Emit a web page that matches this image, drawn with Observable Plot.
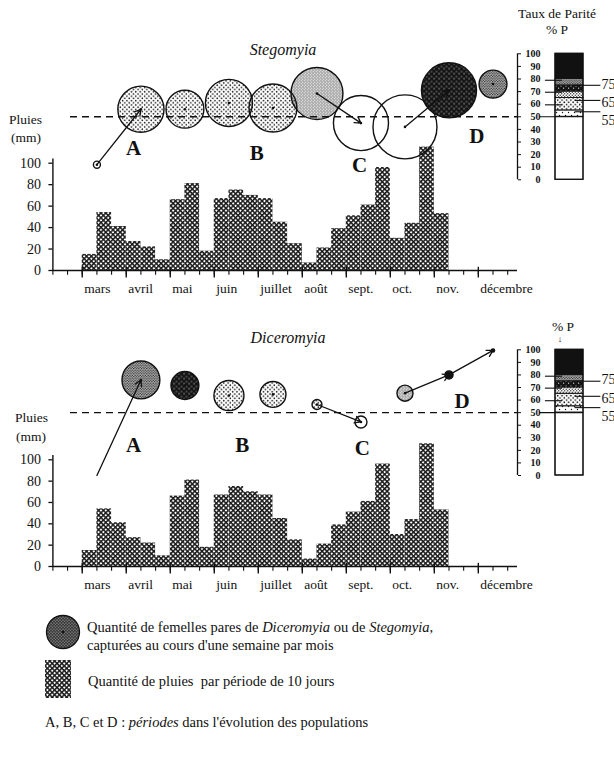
<!DOCTYPE html>
<html><head><meta charset="utf-8">
<script src="https://cdn.jsdelivr.net/npm/d3@7"></script>
<script src="https://cdn.jsdelivr.net/npm/@observablehq/plot@0.6"></script>
<style>
body{margin:0;background:#fff;overflow:hidden}
#page{position:relative;width:614px;height:758px;font-family:"Liberation Serif","DejaVu Serif",serif;color:#111}
.abs{position:absolute;white-space:nowrap;line-height:1}
.c{transform:translate(-50%,-50%)}
.layer{position:absolute;left:0}
</style></head><body>
<svg width="0" height="0" style="position:absolute">
<defs>
<pattern id="pRain" width="3.4" height="3.4" patternUnits="userSpaceOnUse" patternTransform="rotate(45)"><rect width="3.4" height="3.4" fill="#fff"/><rect width="3.4" height="1.5" fill="#1a1a1a"/><rect width="1.5" height="3.4" fill="#1a1a1a"/></pattern>
<pattern id="pSparse" width="6" height="6" patternUnits="userSpaceOnUse"><circle cx="1.5" cy="1.5" r="0.7" fill="#111"/><circle cx="4.5" cy="4.5" r="0.7" fill="#111"/></pattern>
<pattern id="pDots" width="4.4" height="4.4" patternUnits="userSpaceOnUse"><circle cx="1.1" cy="1.1" r="0.8" fill="#111"/><circle cx="3.3" cy="3.3" r="0.8" fill="#111"/></pattern>
<pattern id="pFine" width="3" height="3" patternUnits="userSpaceOnUse"><circle cx="0.75" cy="0.75" r="0.65" fill="#222"/><circle cx="2.25" cy="2.25" r="0.65" fill="#222"/></pattern>
<pattern id="pGray" width="2.6" height="2.6" patternUnits="userSpaceOnUse"><rect width="2.6" height="2.6" fill="#bbb"/><circle cx="0.65" cy="0.65" r="0.7" fill="#222"/><circle cx="1.95" cy="1.95" r="0.7" fill="#222"/></pattern>
<pattern id="pDark" width="5" height="5" patternUnits="userSpaceOnUse"><rect width="5" height="5" fill="#141414"/><circle cx="1" cy="1" r="0.55" fill="#fff"/><circle cx="3.6" cy="3.2" r="0.6" fill="#ddd"/></pattern>
<pattern id="pLegend" width="3" height="3" patternUnits="userSpaceOnUse"><rect width="3" height="3" fill="#3a3a3a"/><circle cx="1" cy="1" r="0.5" fill="#eee"/><circle cx="2.4" cy="2.3" r="0.45" fill="#ccc"/></pattern>
</defs></svg>
<div id="page">
  <div class="abs c" style="left:283px;top:50px;font-style:italic;font-size:16px">Stegomyia</div>
  <div class="abs c" style="left:288px;top:338px;font-style:italic;font-size:16px">Diceromyia</div>
  <div class="abs c" style="left:557px;top:14px;font-size:13.5px">Taux de Parité</div>
  <div class="abs c" style="left:557px;top:30px;font-size:13.5px">% P</div>
  <div class="abs c" style="left:563px;top:327px;font-size:13.5px">% P</div>
  <div class="abs c" style="left:560px;top:339px;font-size:9px;font-weight:bold">↓</div>
  <div class="abs" style="left:9px;top:113px;font-size:13.5px">Pluies</div>
  <div class="abs" style="left:11px;top:131px;font-size:13.5px">(mm)</div>
  <div class="abs" style="left:15px;top:411px;font-size:13.5px">Pluies</div>
  <div class="abs" style="left:16px;top:430px;font-size:13.5px">(mm)</div>

  <svg class="abs" style="left:44px;top:613px" width="38" height="38"><circle cx="19" cy="19" r="16.5" fill="url(#pLegend)" stroke="#111" stroke-width="1.3"/><circle cx="19" cy="19" r="1.3" fill="#111"/></svg>
  <div class="abs" style="left:87px;top:620px;font-size:14.5px">Quantité de femelles pares de <i>Diceromyia</i> ou de <i>Stegomyia</i>,</div>
  <div class="abs" style="left:87px;top:638px;font-size:14.5px">capturées au cours d'une semaine par mois</div>
  <svg class="abs" style="left:45px;top:660px" width="26" height="38"><rect width="26" height="38" fill="url(#pRain)"/></svg>
  <div class="abs" style="left:88px;top:674px;font-size:14.5px">Quantité de pluies&nbsp; par période de 10 jours</div>
  <div class="abs" style="left:45px;top:715px;font-size:14.5px">A, B, C et D : <i>périodes</i> dans l'évolution des populations</div>
</div>
<script>
// ---------------- DATA ----------------
const months = ["mars","avril","mai","juin","juillet","août","sept.","oct.","nov.","décembre"];
// rainfall per 10-day period, 1 March -> 10 November (mm)
const rainMm = [15,54,41,27,22,10,66,81,18,67,75,70,67,45,25,7,21,39,51,61,96,30,44,115,53];
const rainTicks = [0,20,40,60,80,100];
const parityTicks = [0,10,20,30,40,50,60,70,80,90,100];
// one capture week per month (mars .. décembre)
const stegoParity   = [12, 56, 56, 61, 57, 68.5, 45, 42, 71, 76];
const stegoQuantity = [1.2, 52, 35, 54, 56, 66, 74, 100, 74, 19];
const diceroParity   = [0, 76, 71.6, 63.6, 64.5, 56.5, 42.6, 65.5, 80, 99.5];
const diceroQuantity = [0, 35, 19, 22, 16.5, 2.4, 3.5, 6.3, 1.6, 0.25];
const stegoArrows  = [[0,1],[5,6],[7,8]];
const diceroArrows = [[0,1],[5,6],[7,8],[8,9]];
const periodLetters = ["A","B","C","D"];
const stegoLetterX = [5.5, 13.9, 20.9, 28.9], stegoLetterP = [24.8, 20.9, 11.3, 34.4];
const diceroLetterX = [5.5, 12.9, 21.1, 27.9], diceroLetterP = [23.9, 23.9, 21.5, 58.9];
// parity classes of the legend bar
const classBounds = [0, 50, 55, 65, 70, 75, 80, 100];
const classLabels = ["75","65","55"];
const classLabelLine = [75, 63, 54];
const classLabelPos = [76, 61.5, 47];
const legendLeftLines = [79, 69.5, 59.5];

// ---------------- BUILD ----------------
const FONT = "Liberation Serif";
const X_END = 31.67;            // axis runs 11 Feb -> ~20 Dec (10-day periods)
const classFills = ["none","url(#pSparse)","url(#pDots)","url(#pFine)","url(#pDark)","url(#pGray)","#111"];
const classOf = p => { for (let k = classBounds.length - 2; k >= 0; k--) if (p >= classBounds[k]) return k; return 0; };
const rainRows = rainMm.map((mm, k) => ({i: k + 2, mm}));
const monthRows = months.map((m, k) => ({start: 2 + 3 * k, label: m}));
const rScale = {type: "sqrt", domain: [0, 100], range: [0, 32]};
const rPx = q => 32 * Math.sqrt(q / 100);

function rainPlot(mt, mb, h) {
  return Plot.plot({
    width: 614, height: h, marginLeft: 52.4, marginRight: 97, marginTop: mt, marginBottom: mb,
    x: {domain: [0, X_END], axis: null},
    y: {domain: [0, 100], axis: null},
    style: {background: "transparent", overflow: "visible", fontFamily: FONT},
    marks: [
      Plot.rectY(rainRows, {x1: "i", x2: d => d.i + 1, y: "mm", fill: "url(#pRain)"}),
      Plot.ruleY([0], {x1: 0, x2: X_END, strokeWidth: 1.6, stroke: "#111"}),
      Plot.ruleX(d3.range(0, 32), {y1: 0, y2: -4.5, stroke: "#111", strokeWidth: 1.1}),
      Plot.ruleX(monthRows, {x: "start", y1: 3, y2: -7, stroke: "#111", strokeWidth: 1.4}),
      Plot.text(monthRows, {x: "start", y: 0, text: "label", dy: 18, dx: 2, textAnchor: "start", fontSize: 13.5, fontFamily: FONT, fill: "#111"}),
      Plot.ruleX([0], {y1: -1, y2: 104, stroke: "#111", strokeWidth: 1.4}),
      Plot.axisY({ticks: rainTicks, tickSize: 4, tickPadding: 8, fontSize: 14, label: null, stroke: "#111", fill: "#111", strokeWidth: 1.3})
    ]
  });
}

function overlayPlot(mt, mb, parity, quantity, arrows, letterX, letterP) {
  const rows = parity.map((p, k) => ({x: 3 + 3 * k, p, q: quantity[k], k: classOf(p)}));
  const arr = arrows.map(([a, b]) => {
    const ra = rPx(rows[a].q), rb = rPx(rows[b].q);
    return {x1: rows[a].x, y1: rows[a].p, x2: rows[b].x, y2: rows[b].p,
            s: ra > 0 && ra < 10 ? ra + 1 : 0, e: rb < 20 ? rb + 1 : 3};
  });
  const letters = periodLetters.map((t, k) => ({t, x: letterX[k], p: letterP[k]}));
  const marks = [];
  classFills.forEach((f, k) => {
    marks.push(Plot.dot(rows.filter(d => d.k === k && d.q > 0), {x: "x", y: "p", r: "q", fill: f, stroke: "#111", strokeWidth: 1.4}));
  });
  marks.push(
    Plot.ruleY([50], {x1: 1.2, x2: X_END, stroke: "#111", strokeWidth: 1.4, strokeDasharray: "7,5"}),
    Plot.dot(rows.filter(d => d.q > 1), {x: "x", y: "p", r: 1.3, fill: "#111"}),
    Plot.arrow(arr, {x1: "x1", y1: "y1", x2: "x2", y2: "y2", insetStart: "s", insetEnd: "e", bend: 0, headLength: 8, stroke: "#111", strokeWidth: 1.3}),
    Plot.text(letters, {x: "x", y: "p", text: "t", fontSize: 21, fontWeight: "bold", fontFamily: FONT, fill: "#111"}),
    Plot.ruleX([X_END], {y1: 0, y2: 100, stroke: "#111", strokeWidth: 1.3}),
    Plot.axisY({anchor: "right", ticks: parityTicks, tickSize: 3, tickPadding: 20, textAnchor: "end", fontSize: 10, fontWeight: "bold", label: null, stroke: "#111", fill: "#111"})
  );
  return Plot.plot({
    width: 614, height: 300, marginLeft: 52.4, marginRight: 97, marginTop: mt, marginBottom: mb,
    x: {domain: [0, X_END], axis: null},
    y: {domain: [0, 100], axis: null},
    r: rScale,
    style: {background: "transparent", overflow: "visible", fontFamily: FONT},
    marks
  });
}

function legendBarPlot(mt, mb) {
  const segs = classBounds.slice(0, -1).map((lo, k) => ({lo, hi: classBounds[k + 1], k}));
  const labels = classLabels.map((t, k) => ({t, line: classLabelLine[k], pos: classLabelPos[k]}));
  const marks = segs.map(s => Plot.rect([s], {x1: 0, x2: 1, y1: "lo", y2: "hi", fill: classFills[s.k] === "none" ? "#fff" : classFills[s.k], stroke: "#111", strokeWidth: 0.8}));
  marks.push(
    Plot.rect([0], {x1: 0, x2: 1, y1: 0, y2: 100, fill: "none", stroke: "#111", strokeWidth: 1.3}),
    Plot.ruleY(legendLeftLines, {x1: -0.36, x2: 0.25, stroke: "#111", strokeWidth: 1.1}),
    Plot.ruleY([50], {x1: -0.55, x2: 1, stroke: "#111", strokeWidth: 1.1}),
    Plot.ruleY(labels, {y: "line", x1: 0.7, x2: 1.62, stroke: "#111", strokeWidth: 1.1}),
    Plot.text(labels, {x: 1.64, y: "pos", text: "t", textAnchor: "start", fontSize: 14, fontFamily: FONT, fill: "#111"})
  );
  return Plot.plot({
    width: 614, height: 300, marginLeft: 555, marginRight: 31, marginTop: mt, marginBottom: mb,
    x: {domain: [0, 1], axis: null},
    y: {domain: [0, 100], axis: null},
    style: {background: "transparent", overflow: "visible", fontFamily: FONT},
    marks
  });
}

const page = document.getElementById("page");
function add(node, top) { node.classList.add("layer"); node.style.top = top + "px"; page.appendChild(node); }

add(rainPlot(27.7, 30, 165), 135);
add(overlayPlot(53.3, 120.7, stegoParity, stegoQuantity, stegoArrows, stegoLetterX, stegoLetterP), 0);
add(legendBarPlot(53.3, 120.7), 0);

add(rainPlot(29.3, 29, 165), 430);
add(overlayPlot(49.3, 125, diceroParity, diceroQuantity, diceroArrows, diceroLetterX, diceroLetterP), 300);
add(legendBarPlot(49.3, 125), 300);
</script>
</body></html>
